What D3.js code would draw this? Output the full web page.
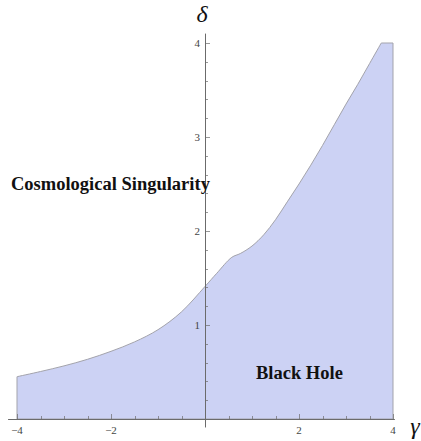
<!DOCTYPE html>
<html>
<head>
<meta charset="utf-8">
<script src="https://cdn.jsdelivr.net/npm/d3@7"></script>
<style>
  html, body { margin: 0; padding: 0; background: #fff; }
  svg { display: block; }
  svg text { font-family: "Times New Roman", "Liberation Serif", "DejaVu Serif", serif; }
</style>
</head>
<body>
<svg id="chart" width="421" height="441"></svg>
<script>
// Boundary of the black-hole region: delta as a function of gamma
const gammaValues = [-4, -3.5, -3, -2.5, -2, -1.5, -1, -0.5, 0, 0.25, 0.57, 0.75, 1, 1.25, 1.5, 1.75, 2, 2.25, 2.5, 2.75, 3, 3.25, 3.5, 3.75];
const deltaValues = [0.45, 0.505, 0.565, 0.635, 0.72, 0.82, 0.95, 1.14, 1.41, 1.55, 1.72, 1.76, 1.84, 1.96, 2.12, 2.31, 2.50, 2.70, 2.91, 3.13, 3.35, 3.56, 3.78, 4.0];

// Plot range: the region is cut off at the top of the frame
const gammaRange = [-4, 4];
const deltaRange = [0, 4];

const xTicksMajor = [-4, -2, 2, 4];
const xTickLabels = ["\u22124", "\u22122", "2", "4"];
const yTicksMajor = [1, 2, 3, 4];
const yTickLabels = ["1", "2", "3", "4"];

const regionLabels = ["Cosmological Singularity", "Black Hole"];
const axisNames = ["\u03b3", "\u03b4"];

const svg = d3.select("#chart");

const x = d3.scaleLinear().domain(gammaRange).range([17, 393]);
const y = d3.scaleLinear().domain(deltaRange).range([419, 43]);

const pts = gammaValues.map((g, i) => ({ g, d: deltaValues[i] }));

// Upper boundary as a smooth curve, then the flat cut at the top,
// down the right edge, along the gamma axis and up the left edge.
const topLine = d3.line()
  .x(p => x(p.g))
  .y(p => y(p.d))
  .curve(d3.curveCatmullRom.alpha(0.5));

const regionPath = topLine(pts) +
  "L" + x(gammaRange[1]) + "," + y(deltaRange[1]) +
  "L" + x(gammaRange[1]) + "," + y(deltaRange[0]) +
  "L" + x(gammaRange[0]) + "," + y(deltaRange[0]) + "Z";

svg.append("path")
  .attr("d", regionPath)
  .attr("fill", "#ccd2f4")
  .attr("stroke", "#a3a3ab")
  .attr("stroke-width", 1);

// Axes crossing at the origin
const axisColor = "#6b6b6b";
const axes = svg.append("g").attr("stroke", axisColor).attr("stroke-width", 1);
axes.append("line")
  .attr("x1", x(-4.19)).attr("x2", x(4.04))
  .attr("y1", y(0) + 0.5).attr("y2", y(0) + 0.5);
axes.append("line")
  .attr("x1", x(0) + 0.5).attr("x2", x(0) + 0.5)
  .attr("y1", y(4.1)).attr("y2", y(-0.09));

// x ticks: majors every 2, minors every 0.5 (pointing up)
const xMinor = d3.range(-4, 4.001, 0.5).filter(v => Math.abs(v) > 1e-9);
axes.selectAll(".xt").data(xMinor).join("line")
  .attr("x1", v => Math.round(x(v)) + 0.5).attr("x2", v => Math.round(x(v)) + 0.5)
  .attr("y1", y(0))
  .attr("y2", v => y(0) - (xTicksMajor.includes(v) ? 5 : 3))
  .attr("stroke-width", 0.7);

// y ticks: majors every 1, minors every 0.2 (pointing right)
const yMinor = d3.range(0.2, 4.001, 0.2);
axes.selectAll(".yt").data(yMinor).join("line")
  .attr("y1", v => Math.round(y(v)) + 0.5).attr("y2", v => Math.round(y(v)) + 0.5)
  .attr("x1", x(0))
  .attr("x2", v => x(0) + (yTicksMajor.some(t => Math.abs(t - v) < 1e-6) ? 5 : 3))
  .attr("stroke-width", 0.7);

// Tick labels
svg.append("g").selectAll("text").data(xTicksMajor).join("text")
  .attr("x", v => x(v))
  .attr("y", 434)
  .attr("text-anchor", "middle")
  .attr("font-size", 11)
  .attr("fill", "#444")
  .text((v, i) => xTickLabels[i]);

svg.append("g").selectAll("text").data(yTicksMajor).join("text")
  .attr("x", x(0) - 5)
  .attr("y", v => y(v) + 4)
  .attr("text-anchor", "end")
  .attr("font-size", 11)
  .attr("fill", "#444")
  .text((v, i) => yTickLabels[i]);

// Axis names
svg.append("text")
  .attr("x", 415).attr("y", 434)
  .attr("text-anchor", "middle")
  .attr("font-style", "italic")
  .attr("font-size", 24)
  .attr("fill", "#111")
  .text(axisNames[0]);

svg.append("text")
  .attr("x", 202).attr("y", 22)
  .attr("text-anchor", "middle")
  .attr("font-style", "italic")
  .attr("font-size", 24)
  .attr("fill", "#111")
  .text(axisNames[1]);

// Region labels
svg.append("text")
  .attr("x", 11).attr("y", 190)
  .attr("font-weight", "bold")
  .attr("font-size", 18.5)
  .attr("fill", "#111")
  .text(regionLabels[0]);

svg.append("text")
  .attr("x", 256).attr("y", 379)
  .attr("font-weight", "bold")
  .attr("font-size", 18.5)
  .attr("fill", "#111")
  .text(regionLabels[1]);
</script>
</body>
</html>
